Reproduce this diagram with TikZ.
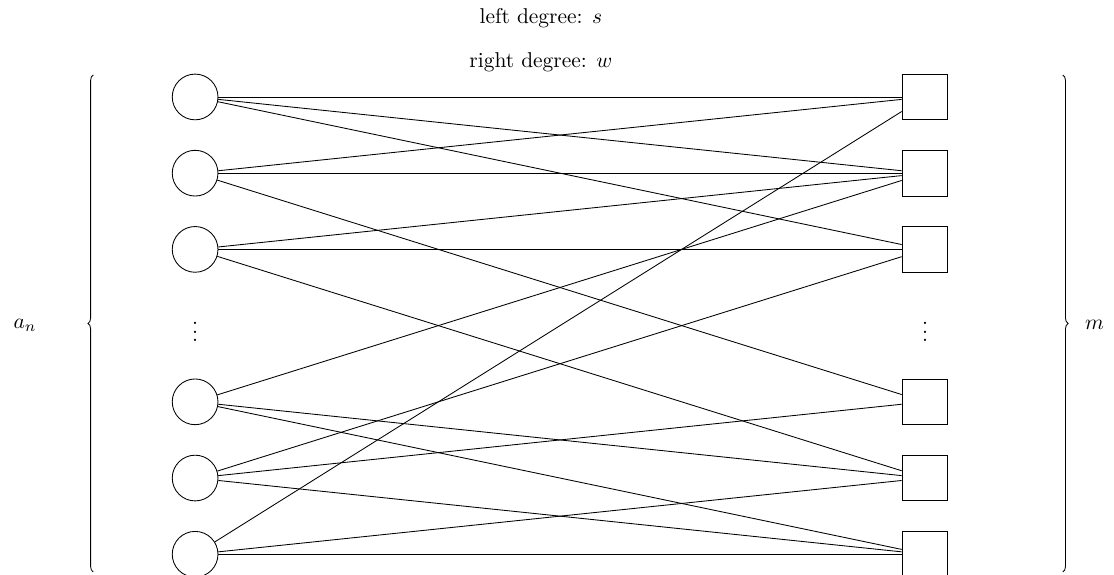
\documentclass[tikz,border=0pt]{standalone}
\usetikzlibrary{decorations.pathreplacing}

\begin{document}
\begin{tikzpicture}[
  var/.style={draw, circle, minimum size=0.75cm, inner sep=0pt},
  chk/.style={draw, rectangle, minimum size=0.75cm, inner sep=0pt},
  curly/.style={decorate, decoration={brace}}
]
\useasboundingbox (-3.2,-7.84) rectangle (15.07,1.59);

\node (leftdeg) at (5.67,1.3) {left degree: $s$};
\node (rightdeg) at (5.67,0.57) {right degree: $w$};

% left column
\node[var] (v1) at (0,0) {};
\node[var] (v2) at (0,-1.25) {};
\node[var] (v3) at (0,-2.5) {};
\node (vdots) at (0,-3.75) {$\vdots$};
\node[var] (v4) at (0,-5) {};
\node[var] (v5) at (0,-6.25) {};
\node[var] (v6) at (0,-7.5) {};

% right column
\node[chk] (c1) at (11.97,0) {};
\node[chk] (c2) at (11.97,-1.25) {};
\node[chk] (c3) at (11.97,-2.5) {};
\node (cdots) at (11.97,-3.75) {$\vdots$};
\node[chk] (c4) at (11.97,-5) {};
\node[chk] (c5) at (11.97,-6.25) {};
\node[chk] (c6) at (11.97,-7.5) {};

\draw (v1) -- (c1);
\draw (v1) -- (c2);
\draw (v1) -- (c3);
\draw (v2) -- (c1);
\draw (v2) -- (c2);
\draw (v2) -- (c4);
\draw (v3) -- (c2);
\draw (v3) -- (c3);
\draw (v3) -- (c5);
\draw (v4) -- (c2);
\draw (v4) -- (c5);
\draw (v4) -- (c6);
\draw (v5) -- (c3);
\draw (v5) -- (c4);
\draw (v5) -- (c6);
\draw (v6) -- (c1);
\draw (v6) -- (c5);
\draw (v6) -- (c6);

% braces
\draw[curly] (-1.67,-7.79) -- (-1.67,0.36);
\draw[curly] (14.23,0.36) -- (14.23,-7.79);
\node (an) at (-2.79,-3.74) {$a_n$};
\node (m) at (14.75,-3.74) {$m$};
\end{tikzpicture}
\end{document}
